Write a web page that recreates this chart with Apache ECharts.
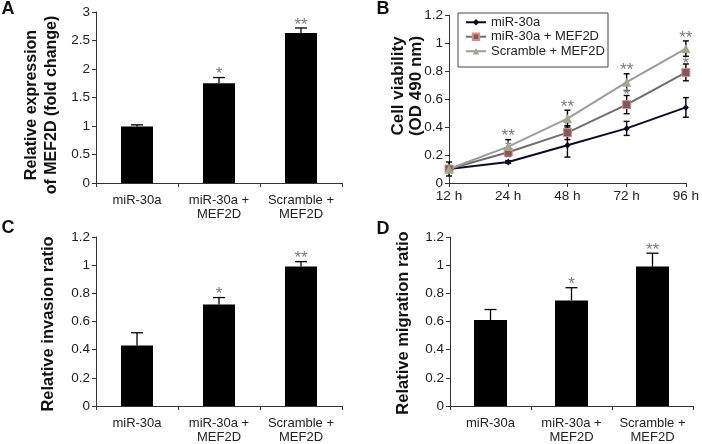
<!DOCTYPE html>
<html>
<head>
<meta charset="utf-8">
<script src="https://cdn.jsdelivr.net/npm/echarts@6/dist/echarts.min.js"></script>
<style>html,body{margin:0;padding:0;background:#fff;}#c{width:702px;height:444px;}</style>
</head>
<body>
<div id="c"></div>
<script>
// ---- data ----
const categories = ['miR-30a', 'miR-30a +\nMEF2D', 'Scramble +\nMEF2D'];
const expressionA = [0.99, 1.75, 2.63];
const errA = [0.03, 0.10, 0.09];
const starsA = ['', '*', '**'];

const invasionC = [0.43, 0.72, 0.99];
const errC = [0.09, 0.05, 0.035];
const starsC = ['', '*', '**'];

const migrationD = [0.61, 0.75, 0.99];
const errD = [0.075, 0.09, 0.095];
const starsD = ['', '*', '**'];

const timePoints = ['12 h', '24 h', '48 h', '72 h', '96 h'];
const seriesNames = ['miR-30a', 'miR-30a + MEF2D', 'Scramble + MEF2D'];
const viabMiR = [0.10, 0.15, 0.27, 0.39, 0.54];
const errMiR = [0.05, 0.01, 0.085, 0.05, 0.07];
const viabMiRMEF = [0.10, 0.22, 0.36, 0.56, 0.79];
const errMiRMEF = [0.02, 0.03, 0.05, 0.065, 0.06];
const starsMiRMEF = ['', '*', '*', '*', '*'];
const viabScr = [0.10, 0.26, 0.46, 0.72, 0.96];
const errScr = [0.02, 0.05, 0.06, 0.06, 0.055];
const starsScr = ['', '**', '**', '**', '**'];

// ---- helpers ----
const FONT = "'Liberation Sans', Arial, sans-serif";
const axisCol = '#333';
const starCol = '#7a7a7a';

function errorSeries(axisIdx, vals, errs, stars, o) {
  return {
    type: 'custom',
    xAxisIndex: axisIdx, yAxisIndex: axisIdx,
    z: o.z || 5,
    silent: true,
    data: vals.map((v, i) => [i, v, errs[i]]),
    renderItem: function (params, api) {
      const x = api.value(0), v = api.value(1), e = api.value(2);
      const top = api.coord([x, v + e]);
      const bot = o.twoSided ? api.coord([x, v - e]) : api.coord([x, v]);
      const hw = o.cap / 2;
      const st = { stroke: '#000', lineWidth: o.lw || 1.3 };
      const ch = [
        { type: 'line', shape: { x1: top[0], y1: top[1], x2: bot[0], y2: bot[1] }, style: st },
        { type: 'line', shape: { x1: top[0] - hw, y1: top[1], x2: top[0] + hw, y2: top[1] }, style: st }
      ];
      if (o.twoSided) ch.push({ type: 'line', shape: { x1: bot[0] - hw, y1: bot[1], x2: bot[0] + hw, y2: bot[1] }, style: st });
      const s = stars ? stars[params.dataIndex] : '';
      if (s) ch.push({ type: 'text', z2: 10, style: { text: s, x: top[0], y: top[1] - (o.starOff || 0), align: 'center', verticalAlign: 'middle', fill: starCol, font: '17px ' + FONT } });
      return { type: 'group', children: ch };
    }
  };
}

function catX(gi) {
  return {
    type: 'category', gridIndex: gi, data: categories,
    axisLine: { lineStyle: { color: axisCol, width: 1 } },
    axisTick: { show: true, length: 4, inside: false, lineStyle: { color: axisCol } },
    axisLabel: { color: '#222', fontSize: 13, fontFamily: FONT, margin: 10, lineHeight: 14, interval: 0 }
  };
}
function valY(gi, max, interval) {
  return {
    type: 'value', gridIndex: gi, min: 0, max: max, interval: interval,
    splitLine: { show: false },
    axisLine: { show: true, lineStyle: { color: axisCol, width: 1 } },
    axisTick: { show: true, length: 4, lineStyle: { color: axisCol } },
    axisLabel: { color: '#222', fontSize: 13.5, fontFamily: FONT, margin: 6 }
  };
}

const chart = echarts.init(document.getElementById('c'), null, { renderer: 'canvas' });

const option = {
  animation: false,
  backgroundColor: '#fff',
  grid: [
    { left: 96, top: 12, width: 246, height: 171 },
    { left: 449, top: 15, width: 241, height: 168 },
    { left: 96, top: 237, width: 246, height: 171 },
    { left: 450, top: 237, width: 243, height: 171 }
  ],
  xAxis: [
    catX(0),
    {
      type: 'category', gridIndex: 1, data: timePoints, boundaryGap: false,
      axisLine: { lineStyle: { color: axisCol, width: 1 } },
      axisTick: { show: true, length: 4, lineStyle: { color: axisCol } },
      axisLabel: { color: '#222', fontSize: 13.5, fontFamily: FONT, margin: 6 }
    },
    catX(2),
    catX(3)
  ],
  yAxis: [
    valY(0, 3, 0.5),
    valY(1, 1.2, 0.2),
    valY(2, 1.2, 0.2),
    valY(3, 1.2, 0.2)
  ],
  legend: {
    orient: 'vertical', left: 465, top: 15, padding: 0, itemGap: 0,
    itemWidth: 20, itemHeight: 8,
    data: seriesNames,
    textStyle: { fontSize: 13, fontFamily: FONT, color: '#222', lineHeight: 14.5 }
  },
  graphic: [
    { type: 'rect', shape: { x: 458, y: 13, width: 150, height: 54 }, style: { fill: 'none', stroke: '#444', lineWidth: 1 }, z: 100 },
    { type: 'text', x: 8, y: 9, style: { text: 'A', font: 'bold 18px ' + FONT, fill: '#111', align: 'center', verticalAlign: 'middle' } },
    { type: 'text', x: 383, y: 9, style: { text: 'B', font: 'bold 18px ' + FONT, fill: '#111', align: 'center', verticalAlign: 'middle' } },
    { type: 'text', x: 8, y: 228, style: { text: 'C', font: 'bold 18px ' + FONT, fill: '#111', align: 'center', verticalAlign: 'middle' } },
    { type: 'text', x: 383, y: 229, style: { text: 'D', font: 'bold 18px ' + FONT, fill: '#111', align: 'center', verticalAlign: 'middle' } },
    { type: 'text', x: 42, y: 105, rotation: Math.PI / 2, style: { text: 'Relative expression\nof MEF2D (fold change)', font: 'bold 16px ' + FONT, lineHeight: 20, fill: '#111', align: 'center', verticalAlign: 'middle' } },
    { type: 'text', x: 407, y: 86, rotation: Math.PI / 2, style: { text: 'Cell viability\n(OD 490 nm)', font: 'bold 17px ' + FONT, lineHeight: 18, fill: '#111', align: 'center', verticalAlign: 'middle' } },
    { type: 'text', x: 48, y: 324, rotation: Math.PI / 2, style: { text: 'Relative invasion ratio', font: 'bold 16.5px ' + FONT, fill: '#111', align: 'center', verticalAlign: 'middle' } },
    { type: 'text', x: 403, y: 323, rotation: Math.PI / 2, style: { text: 'Relative migration ratio', font: 'bold 16.5px ' + FONT, fill: '#111', align: 'center', verticalAlign: 'middle' } }
  ],
  series: [
    { type: 'bar', xAxisIndex: 0, yAxisIndex: 0, data: expressionA, barWidth: 32, itemStyle: { color: '#000' }, z: 2 },
    errorSeries(0, expressionA, errA, starsA, { cap: 12, starOff: 3 }),
    { type: 'bar', xAxisIndex: 2, yAxisIndex: 2, data: invasionC, barWidth: 32, itemStyle: { color: '#000' }, z: 2 },
    errorSeries(2, invasionC, errC, starsC, { cap: 12, starOff: 3 }),
    { type: 'bar', xAxisIndex: 3, yAxisIndex: 3, data: migrationD, barWidth: 33, itemStyle: { color: '#000' }, z: 2 },
    errorSeries(3, migrationD, errD, starsD, { cap: 12, starOff: 3 }),

    errorSeries(1, viabMiR, errMiR, null, { cap: 6, twoSided: true, z: 2, lw: 1.4 }),
    errorSeries(1, viabMiRMEF, errMiRMEF, starsMiRMEF, { cap: 6, twoSided: true, z: 2, lw: 1.4, starOff: 0 }),
    errorSeries(1, viabScr, errScr, starsScr, { cap: 6, twoSided: true, z: 2, lw: 1.4, starOff: 3 }),
    {
      name: seriesNames[0], type: 'line', xAxisIndex: 1, yAxisIndex: 1, data: viabMiR, z: 4,
      symbol: 'diamond', symbolSize: [6, 7], showAllSymbol: true,
      lineStyle: { color: '#0b0b26', width: 2 }, itemStyle: { color: '#0b0b26' }
    },
    {
      name: seriesNames[1], type: 'line', xAxisIndex: 1, yAxisIndex: 1, data: viabMiRMEF, z: 4,
      symbol: 'rect', symbolSize: 8, showAllSymbol: true,
      lineStyle: { color: '#6e6e6e', width: 2 }, itemStyle: { color: '#7d5b5b', borderColor: '#d98c8c', borderWidth: 1 }
    },
    {
      name: seriesNames[2], type: 'line', xAxisIndex: 1, yAxisIndex: 1, data: viabScr, z: 4,
      symbol: 'triangle', symbolSize: 9, showAllSymbol: true,
      lineStyle: { color: '#9c9c9c', width: 2 }, itemStyle: { color: '#a2a888' }
    }
  ]
};
chart.setOption(option);
</script>
</body>
</html>
